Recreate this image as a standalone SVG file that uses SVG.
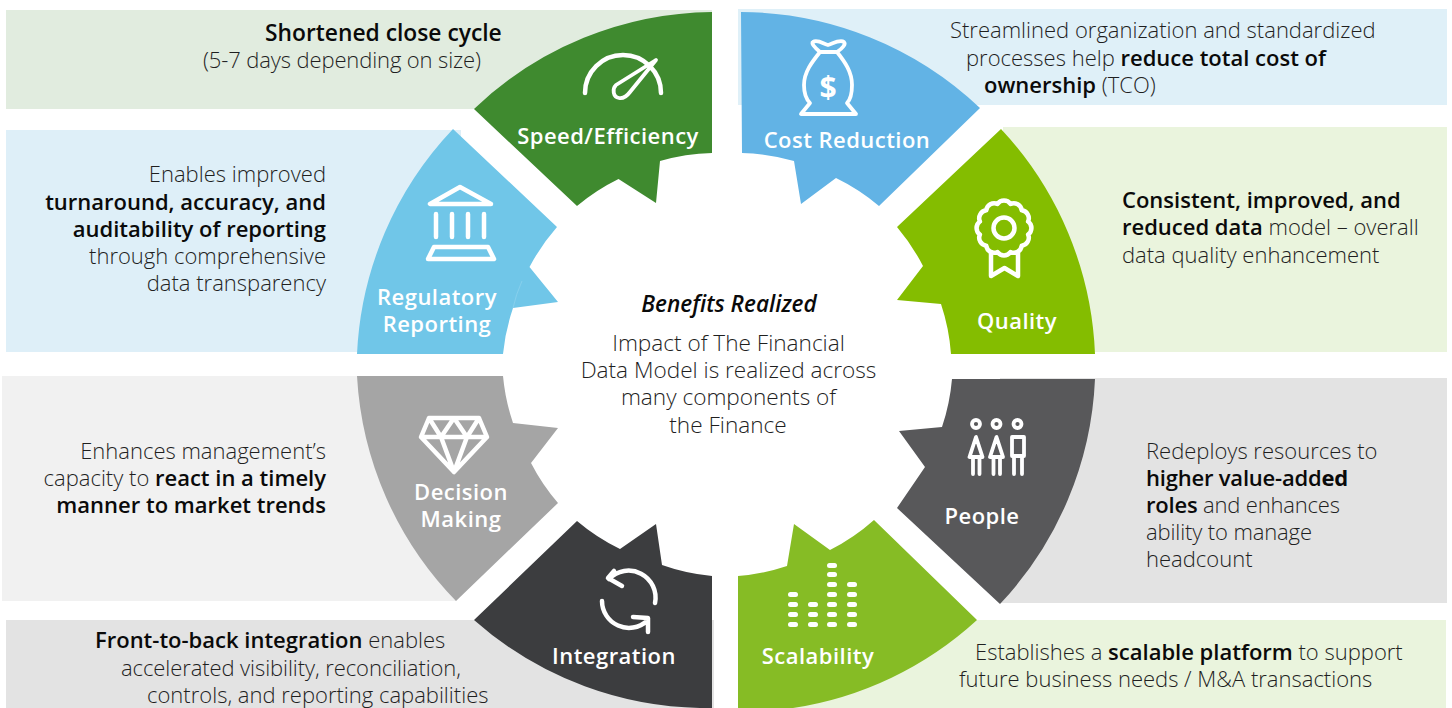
<svg xmlns="http://www.w3.org/2000/svg" width="1452" height="708" viewBox="0 0 1452 708">
<style>
text{font-family:"Open Sans","Noto Sans","Liberation Sans",sans-serif}
.t{font-size:22px;font-weight:300;fill:#1f1f1f}
.t .b,.b{font-weight:600;fill:#0a0a0a}
.c{font-size:22.600px}
.l{font-size:22px;font-weight:600;fill:#fff;text-anchor:middle;letter-spacing:.47px}
.e{text-anchor:end}
.m{text-anchor:middle}
.i{fill:none;stroke:#fff;stroke-width:4.500;stroke-linecap:round;stroke-linejoin:round}
.n{stroke-width:3.800}
.p{fill:#fff}
</style>
<rect width="1452" height="708" fill="#fff"/>
<g id="speed">
<rect x="6" y="10" width="706" height="99" fill="#e1ecdf"/>
<path d="M712 12A350 350 0 0 0 474 109L577 206A205 205 0 0 1 618.500 179L656 203L660 161A205 205 0 0 1 712 153Z" fill="#3f8a2f"/>
<path class="i" d="M585 93A38 38 0 0 1 661 93"/>
<path class="i n" d="M656 60L616 85C612 89 613 97 619 98C624 99 627 96 630 92Z"/>
<text class="t b" x="265" y="41" font-size="22.800" style="font-size:22.800px">Shortened close cycle</text>
<text class="t" x="203" y="68" textLength="278">(5-7 days depending on size)</text>
<text class="l" x="608" y="144">Speed/Efficiency</text>
</g>
<g id="regulatory">
<rect x="6" y="130" width="455" height="222" fill="#deeff8"/>
<path d="M453 129L557 227A205 205 0 0 0 529.500 267L558 302L513 308A205 205 0 0 0 503 354L357 354A350 350 0 0 1 453 129Z" fill="#70c6e8"/>
<path d="M522 281Q516 294 513 308" fill="none" stroke="#8fd3ee" stroke-width=".7"/>
<path class="i" d="M460 187L430 204H491ZM436 214V237M452 214V237M468 214V237M484 214V237M428 259L434 247H488L494 259Z"/>
<text class="t e" x="326" y="182">Enables improved</text>
<text class="t b e" x="326" y="210">turnaround, accuracy, and</text>
<text class="t b e" x="326" y="237">auditability of reporting</text>
<text class="t e" x="326" y="264">through comprehensive</text>
<text class="t e" x="326" y="291">data transparency</text>
<text class="l" x="437" y="305">Regulatory</text>
<text class="l" x="437" y="332">Reporting</text>
</g>
<g id="cost">
<rect x="738" y="9" width="709" height="96" fill="#dff0f8"/>
<path d="M741 12A350 350 0 0 1 980 108L879 206A205 205 0 0 0 836 178L801 204L794 161A205 205 0 0 0 742 153Z" fill="#62b3e5"/>
<path class="i n" d="M820 52C814 47 811 43 813 42C817 39 824 44 828 45C832 44 840 39 844 42C846 44 843 48 837 52M820 52C812 62 804 72 804 85C804 93 807 100 810 103L801 114H856L847 103C850 100 852 93 852 85C852 72 845 62 837 52Z"/>
<text x="828" y="98" font-size="30" font-weight="700" class="m" fill="#fff">$</text>
<text class="t" x="950" y="38">Streamlined organization and standardized</text>
<text class="t" x="966" y="66">processes help <tspan class="b">reduce total cost of</tspan></text>
<text class="t" x="984" y="93"><tspan class="b">ownership</tspan> (TCO)</text>
<text class="l" x="847" y="148">Cost Reduction</text>
</g>
<g id="quality">
<rect x="1003" y="127" width="444" height="225" fill="#eaf4dd"/>
<path d="M1001 129A350 350 0 0 1 1095 354L951 354A205 205 0 0 0 941 304L897 300L923 266A205 205 0 0 0 897 227Z" fill="#84bd00"/>
<g class="i"><circle cx="1004" cy="228" r="10.500"/>
<path d="M1028.100 234.500A8 8 0 0 1 1021.700 245.700A8 8 0 0 1 1010.500 252.100A8 8 0 0 1 997.500 252.100A8 8 0 0 1 986.300 245.700A8 8 0 0 1 979.900 234.500A8 8 0 0 1 979.900 221.500A8 8 0 0 1 986.300 210.300A8 8 0 0 1 997.500 203.900A8 8 0 0 1 1010.500 203.900A8 8 0 0 1 1021.700 210.300A8 8 0 0 1 1028.100 221.500A8 8 0 0 1 1028.100 234.500Z"/>
<path d="M991 252V276L1004.500 268L1018 276V252"/></g>
<text class="t b" x="1122" y="208">Consistent, improved, and</text>
<text class="t" x="1122" y="235"><tspan class="b">reduced data</tspan> model – overall</text>
<text class="t" x="1122" y="263">data quality enhancement</text>
<text class="l" x="1017" y="329">Quality</text>
</g>
<g id="decision">
<rect x="2" y="376" width="454" height="225" fill="#f1f1f1"/>
<path d="M357 376H503A205 205 0 0 0 513 423L558 428L531 463A205 205 0 0 0 558 503L456 601A350 350 0 0 1 357 376Z" fill="#a5a5a5"/>
<path class="i" d="M429 418H479L487 437L454 472L421 437ZM421 437H487M429 418L441 437L454 418L467 437L479 418M441 437L454 472L467 437"/>
<text class="t e" x="326" y="459">Enhances management’s</text>
<text class="t e" x="326" y="486">capacity to <tspan class="b">react in a timely</tspan></text>
<text class="t b e" x="326" y="513">manner to market trends</text>
<text class="l" x="461" y="500">Decision</text>
<text class="l" x="461" y="527">Making</text>
</g>
<g id="people">
<rect x="1000" y="378" width="447" height="225" fill="#e3e3e3"/>
<path d="M952 379H1095A350 350 0 0 1 1000 604L897 508L925 467L899 431L942 427A205 205 0 0 0 952 379Z" fill="#58585a"/>
<g class="i n"><circle cx="976" cy="424" r="4"/><circle cx="996.500" cy="424" r="4"/><circle cx="1017.500" cy="424" r="4"/>
<path d="M976 437L969.500 457H982.500ZM973 457V474M979.500 457V474M996.500 437L990 457H1003ZM993.500 457V474M1000 457V474M1012 437H1024V456H1012ZM1014 456V474M1022 456V474"/></g>
<text class="t" x="1146" y="459">Redeploys resources to</text>
<text class="t" x="1146" y="486" letter-spacing="-.2"><tspan class="b">higher value-add</tspan><tspan class="b" style="font-weight:700">ed</tspan></text>
<text class="t" x="1146" y="513" textLength="194"><tspan class="b">roles</tspan> and enhances</text>
<text class="t" x="1146" y="540" textLength="166">ability to manage</text>
<text class="t" x="1146" y="567">headcount</text>
<text class="l" x="982" y="524">People</text>
</g>
<g id="integration">
<rect x="6" y="620" width="708" height="88" fill="#e3e3e3"/>
<path d="M474 620L577 521A205 205 0 0 0 620 549L656 524L662 565A205 205 0 0 0 712 576V708A350 350 0 0 1 474 620Z" fill="#3c3d3f"/>
<path class="i" d="M655 603A27 27 0 0 0 609 579M614 571L608 578L622 586M602 601A27 27 0 0 0 647 621M633 617L648 618L648 632"/>
<text class="t" x="95" y="648"><tspan class="b">Front-to-back integration</tspan> enables</text>
<text class="t" x="121" y="676" textLength="340">accelerated visibility, reconciliation,</text>
<text class="t" x="147" y="703">controls, and reporting capabilities</text>
<text class="l" x="614" y="664">Integration</text>
</g>
<g id="scalability">
<rect x="738" y="620" width="708" height="88" fill="#eaf4dd"/>
<path d="M738 576A205 205 0 0 0 787 566L794 524L830 550A205 205 0 0 0 874 520L977 620A350 350 0 0 1 793 708H738Z" fill="#86bc25"/>
<g class="p">
<rect x="788" y="622" width="10" height="5" rx="2.500"/><rect x="788" y="612" width="10" height="5" rx="2.500"/><rect x="788" y="602" width="10" height="5" rx="2.500"/><rect x="788" y="592" width="10" height="5" rx="2.500"/>
<rect x="808" y="622" width="10" height="5" rx="2.500"/><rect x="808" y="612" width="10" height="5" rx="2.500"/><rect x="808" y="602" width="10" height="5" rx="2.500"/>
<rect x="827" y="622" width="10" height="5" rx="2.500"/><rect x="827" y="612" width="10" height="5" rx="2.500"/><rect x="827" y="602" width="10" height="5" rx="2.500"/><rect x="827" y="592" width="10" height="5" rx="2.500"/><rect x="827" y="582" width="10" height="5" rx="2.500"/><rect x="827" y="572" width="10" height="5" rx="2.500"/><rect x="827" y="563" width="10" height="5" rx="2.500"/>
<rect x="847" y="622" width="10" height="5" rx="2.500"/><rect x="847" y="612" width="10" height="5" rx="2.500"/><rect x="847" y="602" width="10" height="5" rx="2.500"/><rect x="847" y="592" width="10" height="5" rx="2.500"/><rect x="847" y="582" width="10" height="5" rx="2.500"/>
</g>
<text class="t" x="975" y="660">Establishes a <tspan class="b">scalable platform</tspan> to support</text>
<text class="t" x="959" y="687">future business needs / M&amp;A transactions</text>
<text class="l" x="818" y="664">Scalability</text>
</g>
<g id="center">
<text class="t c b m" x="729" y="312" font-style="italic">Benefits Realized</text>
<text class="t c m" x="728.500" y="351">Impact of The Financial</text>
<text class="t c m" x="728.500" y="378">Data Model is realized across</text>
<text class="t c m" x="728.500" y="405">many components of</text>
<text class="t c m" x="728" y="433">the Finance</text>
</g>
</svg>
